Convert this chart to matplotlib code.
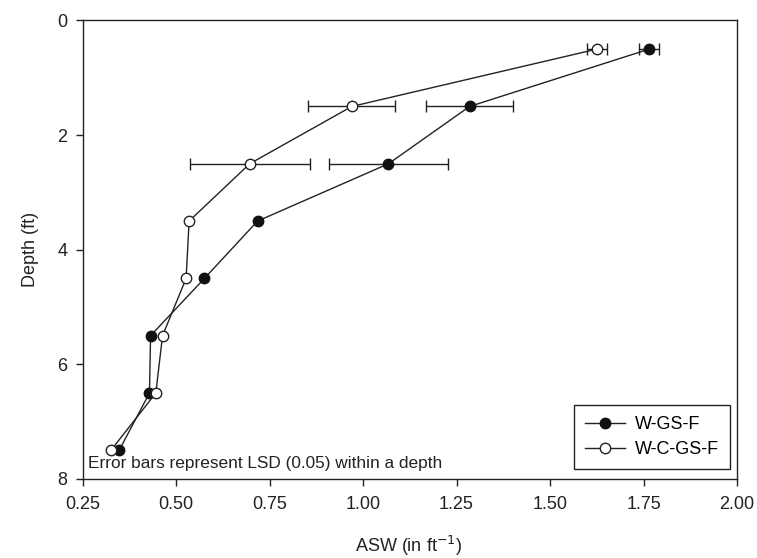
import numpy as np
from matplotlib import pyplot as plt

plt.rcParams['font.family'] = ['Liberation Sans', 'DejaVu Sans']

# Tiefen (ft) und ASW-Werte
depth = [0.5, 1.5, 2.5, 3.5, 4.5, 5.5, 6.5, 7.5]
asw_w_gs_f = [1.765, 1.285, 1.068, 0.718, 0.576, 0.432, 0.429, 0.348]
asw_w_c_gs_f = [1.625, 0.970, 0.697, 0.535, 0.527, 0.464, 0.446, 0.326]

# LSD (0.05) nur fuer die oberen drei Tiefen
lsd_depth = [0.5, 1.5, 2.5]
lsd = [0.027, 0.116, 0.160]

x_ticks = [0.25, 0.50, 0.75, 1.00, 1.25, 1.50, 1.75, 2.00]
y_ticks = [0, 2, 4, 6, 8]

fig = plt.figure(figsize=(7.57, 5.58), dpi=100)
ax = fig.add_axes([0.109, 0.1416, 0.8646, 0.8217])

n = len(lsd_depth)
ax.errorbar(asw_w_gs_f[:n], lsd_depth, xerr=lsd, fmt='none', ecolor='#222222',
            elinewidth=1, capsize=4.5, capthick=1, zorder=2)
ax.errorbar(asw_w_c_gs_f[:n], lsd_depth, xerr=lsd, fmt='none', ecolor='#222222',
            elinewidth=1, capsize=4.5, capthick=1, zorder=2)

ax.plot(asw_w_gs_f, depth, color='#222222', lw=1, marker='o', ms=7.5,
        mfc='#111111', mec='#111111', label='W-GS-F', zorder=3)
ax.plot(asw_w_c_gs_f, depth, color='#222222', lw=1, marker='o', ms=7.5,
        mfc='white', mec='#222222', mew=1, label='W-C-GS-F', zorder=3)

ax.set_xlim(0.25, 2.00)
ax.set_ylim(8, 0)
ax.set_xticks(x_ticks)
ax.set_xticklabels([f'{t:.2f}' for t in x_ticks])
ax.set_yticks(y_ticks)
ax.tick_params(direction='out', length=5, width=1, labelsize=13, colors='#222222')
ax.tick_params(axis='x', pad=7)
ax.tick_params(axis='y', pad=6)
for s in ax.spines.values():
    s.set_linewidth(1)
    s.set_color('#222222')

fig.text(0.54, 0.011, 'ASW (in ft$^{-1}$)', fontsize=13, ha='center',
         va='baseline', color='#222222')
fig.text(0.04, 0.553, 'Depth (ft)', fontsize=13, rotation=90, ha='center',
         va='center', color='#222222')

ax.text(0.008, 0.018, 'Error bars represent LSD (0.05) within a depth',
        transform=ax.transAxes, fontsize=12.4, color='#222222', va='bottom')

leg = ax.legend(loc='lower right', bbox_to_anchor=(0.989, 0.022), fontsize=13,
                fancybox=False, edgecolor='#222222', framealpha=1,
                handlelength=2.2, handletextpad=0.55, borderpad=0.6,
                labelspacing=0.45, borderaxespad=0)
leg.get_frame().set_linewidth(1)

plt.savefig('out.png', dpi=100)
